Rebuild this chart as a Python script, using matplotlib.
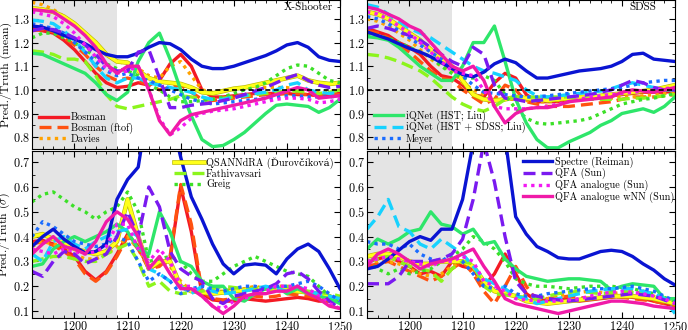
import numpy as np
import matplotlib
matplotlib.use("Agg")
import matplotlib.pyplot as plt
import matplotlib.patheffects as pe
from matplotlib.ticker import MultipleLocator

plt.rcParams['font.family'] = ['cmr10', 'DejaVu Serif']
plt.rcParams['mathtext.fontset'] = 'cm'
plt.rcParams['axes.formatter.use_mathtext'] = True

# wavelength grid (Angstrom)
wave = np.arange(1192, 1251, 2)

names = ['Bosman', 'Bosman (ftof)', 'Davies', 'QSANNdRA (Ďurovčíková)',
         'Fathivavsari', 'Greig', 'iQNet (HST; Liu)', 'iQNet (HST + SDSS; Liu)',
         'Meyer', 'Spectre (Reiman)', 'QFA (Sun)', 'QFA analogue (Sun)',
         'QFA analogue wNN (Sun)']

# ---- X-Shooter, mean ratio
xs_mean_bosman = [1.26,1.25,1.24,1.21,1.17,1.12,1.07,1.03,1.01,1.015,1.03,1.02,1.04,1.11,1.15,1.10,1.00,0.97,0.97,0.975,0.98,0.985,0.985,0.985,0.985,0.98,0.98,0.975,0.98,0.985]
xs_mean_ftof = [1.25,1.255,1.245,1.22,1.19,1.15,1.10,1.06,1.04,1.05,1.04,1.02,1.00,1.01,1.02,0.99,0.96,0.955,0.96,0.965,0.97,0.975,0.98,0.98,0.985,0.985,0.98,0.975,0.98,0.98]
xs_mean_davies = [1.37,1.36,1.34,1.31,1.28,1.24,1.20,1.15,1.12,1.11,1.09,1.06,1.05,1.10,1.12,1.06,1.00,0.99,1.00,1.00,1.005,1.01,1.01,1.01,1.01,1.00,0.995,0.99,0.995,1.00]
xs_mean_qsanndra = [1.345,1.34,1.33,1.31,1.28,1.24,1.20,1.15,1.12,1.115,1.08,1.05,1.035,1.03,1.025,1.01,0.99,0.985,0.995,1.005,1.01,1.02,1.03,1.04,1.05,1.06,1.04,1.03,1.025,1.03]
xs_mean_fathi = [1.165,1.16,1.15,1.13,1.13,1.12,1.06,0.98,0.93,0.92,0.93,0.94,0.95,0.96,0.975,0.97,0.96,0.96,0.965,0.97,0.975,0.98,0.985,0.99,0.995,0.995,0.99,0.985,0.99,1.00]
xs_mean_greig = [1.22,1.24,1.24,1.22,1.20,1.17,1.14,1.11,1.09,1.08,1.06,1.02,1.00,0.97,0.95,0.95,0.955,0.96,0.97,0.985,1.00,1.01,1.03,1.06,1.09,1.105,1.10,1.07,1.04,1.03]
xs_mean_iqhst = [1.155,1.15,1.13,1.11,1.09,1.07,1.03,0.98,0.955,0.99,1.12,1.20,1.24,1.13,1.00,0.89,0.79,0.76,0.765,0.79,0.82,0.86,0.90,0.935,0.94,0.935,0.93,0.905,0.925,0.96]
xs_mean_iqsdss = [1.295,1.29,1.28,1.25,1.21,1.16,1.10,1.05,1.03,1.05,1.05,1.03,1.02,1.01,1.00,0.99,0.97,0.96,0.96,0.97,0.975,0.985,0.99,1.00,1.02,1.03,1.00,0.99,0.985,0.99]
xs_mean_meyer = [1.28,1.27,1.26,1.24,1.20,1.16,1.12,1.08,1.06,1.07,1.05,1.04,1.02,1.00,0.98,0.96,0.95,0.94,0.945,0.95,0.955,0.96,0.965,0.97,0.975,0.975,0.97,0.97,0.97,0.975]
xs_mean_spectre = [1.27,1.265,1.25,1.23,1.215,1.195,1.17,1.15,1.14,1.14,1.155,1.18,1.20,1.195,1.17,1.13,1.10,1.09,1.09,1.10,1.115,1.13,1.145,1.165,1.19,1.20,1.18,1.14,1.125,1.12]
xs_mean_qfa = [1.25,1.26,1.255,1.24,1.22,1.19,1.15,1.10,1.08,1.08,1.16,1.17,1.05,0.925,0.925,0.935,0.94,0.945,0.955,0.965,0.98,0.995,1.01,1.03,1.05,1.065,1.04,1.02,1.01,1.015]
xs_mean_qfaan = [1.33,1.32,1.31,1.28,1.24,1.19,1.14,1.09,1.07,1.08,1.10,1.00,0.88,0.81,0.84,0.88,0.90,0.91,0.915,0.92,0.93,0.94,0.95,0.96,0.965,0.965,0.96,0.945,0.95,0.96]
xs_mean_wnn = [1.34,1.335,1.33,1.30,1.27,1.23,1.18,1.11,1.07,1.10,1.10,1.00,0.87,0.81,0.87,0.895,0.905,0.915,0.925,0.935,0.945,0.955,0.965,0.98,0.995,1.01,1.00,0.965,0.97,0.975]

# ---- SDSS, mean ratio
sd_mean_bosman = [1.26,1.245,1.23,1.20,1.18,1.15,1.10,1.06,1.05,1.02,0.98,0.97,1.03,1.07,1.05,0.98,0.95,0.95,0.95,0.955,0.96,0.965,0.97,0.975,0.98,0.985,0.99,0.99,0.99,0.995]
sd_mean_ftof = [1.25,1.24,1.22,1.19,1.16,1.12,1.08,1.05,1.04,1.00,0.97,0.94,0.96,1.02,1.00,0.95,0.94,0.93,0.93,0.93,0.935,0.94,0.945,0.95,0.96,0.97,0.97,0.97,0.975,0.98]
sd_mean_davies = [1.30,1.29,1.27,1.24,1.21,1.17,1.13,1.10,1.08,1.03,1.00,0.98,0.96,0.96,0.96,0.955,0.95,0.95,0.955,0.96,0.96,0.965,0.965,0.965,0.97,0.97,0.975,0.98,0.985,0.99]
sd_mean_qsanndra = [1.33,1.32,1.30,1.27,1.24,1.21,1.17,1.13,1.10,1.04,0.98,0.96,0.955,0.96,0.97,0.965,0.96,0.955,0.96,0.965,0.97,0.97,0.975,0.98,0.985,0.99,0.995,1.00,1.01,1.02]
sd_mean_fathi = [1.15,1.145,1.135,1.12,1.10,1.08,1.05,1.01,0.97,0.94,0.92,0.91,0.93,0.96,0.97,0.97,0.97,0.97,0.97,0.97,0.965,0.96,0.96,0.96,0.96,0.965,0.965,0.97,0.975,0.98]
sd_mean_greig = [1.23,1.225,1.22,1.20,1.18,1.16,1.14,1.10,1.07,1.05,1.05,1.06,1.04,0.98,0.92,0.88,0.86,0.855,0.86,0.865,0.87,0.88,0.90,0.92,0.94,0.95,0.96,0.965,0.975,0.985]
sd_mean_iqhst = [1.225,1.22,1.21,1.18,1.14,1.10,1.07,1.04,1.04,1.10,1.20,1.20,1.27,1.12,0.96,0.86,0.79,0.755,0.755,0.78,0.80,0.82,0.85,0.87,0.90,0.91,0.92,0.905,0.93,0.97]
sd_mean_iqsdss = [1.36,1.35,1.32,1.29,1.26,1.24,1.22,1.19,1.16,1.13,1.10,1.08,1.07,1.055,1.04,1.00,0.975,0.97,0.975,0.98,0.985,0.99,0.995,1.005,1.02,1.03,1.02,1.01,1.00,1.00]
sd_mean_meyer = [1.31,1.30,1.28,1.25,1.22,1.19,1.16,1.13,1.10,1.06,1.02,0.99,0.985,0.98,0.975,0.97,0.97,0.975,0.98,0.985,0.99,0.995,1.00,1.005,1.01,1.02,1.03,1.035,1.04,1.04]
sd_mean_spectre = [1.245,1.23,1.215,1.195,1.175,1.16,1.14,1.115,1.09,1.065,1.055,1.075,1.11,1.13,1.115,1.08,1.05,1.05,1.06,1.07,1.08,1.085,1.09,1.10,1.12,1.15,1.155,1.13,1.125,1.12]
sd_mean_qfa = [1.26,1.27,1.26,1.245,1.23,1.21,1.18,1.15,1.12,1.10,1.18,1.15,1.02,0.965,0.96,0.95,0.955,0.96,0.965,0.97,0.975,0.98,0.99,1.00,1.02,1.04,1.03,1.01,1.00,1.00]
sd_mean_qfaan = [1.33,1.32,1.30,1.27,1.24,1.20,1.16,1.12,1.08,1.07,1.06,1.00,0.93,0.92,0.92,0.92,0.925,0.93,0.94,0.95,0.96,0.97,0.975,0.98,0.985,0.99,0.995,1.00,1.005,1.01]
sd_mean_wnn = [1.35,1.34,1.32,1.30,1.27,1.25,1.20,1.15,1.10,1.08,1.10,1.04,0.93,0.86,0.90,0.92,0.925,0.925,0.935,0.95,0.955,0.96,0.965,0.97,0.99,1.00,0.995,0.99,1.00,1.01]

# ---- X-Shooter, sigma ratio
xs_std_bosman = [0.38,0.385,0.37,0.35,0.32,0.26,0.225,0.26,0.33,0.41,0.36,0.27,0.29,0.31,0.60,0.42,0.17,0.145,0.14,0.14,0.15,0.145,0.14,0.145,0.15,0.155,0.15,0.14,0.14,0.14]
xs_std_ftof = [0.37,0.38,0.365,0.34,0.31,0.25,0.22,0.255,0.32,0.40,0.35,0.27,0.28,0.32,0.61,0.45,0.18,0.15,0.145,0.15,0.16,0.16,0.155,0.16,0.17,0.165,0.16,0.15,0.14,0.13]
xs_std_davies = [0.36,0.38,0.37,0.36,0.33,0.31,0.31,0.33,0.36,0.40,0.35,0.28,0.30,0.28,0.22,0.18,0.17,0.18,0.18,0.19,0.19,0.20,0.19,0.20,0.20,0.19,0.18,0.17,0.15,0.14]
xs_std_qsanndra = [0.40,0.41,0.39,0.38,0.35,0.34,0.33,0.34,0.38,0.55,0.40,0.27,0.30,0.30,0.20,0.18,0.175,0.17,0.175,0.18,0.185,0.19,0.19,0.19,0.185,0.18,0.175,0.17,0.16,0.14]
xs_std_fathi = [0.30,0.31,0.32,0.32,0.31,0.30,0.30,0.33,0.35,0.37,0.30,0.20,0.22,0.18,0.17,0.175,0.18,0.19,0.20,0.195,0.19,0.19,0.19,0.195,0.20,0.19,0.18,0.175,0.17,0.16]
xs_std_greig = [0.54,0.57,0.58,0.55,0.52,0.50,0.47,0.50,0.52,0.58,0.50,0.30,0.31,0.32,0.30,0.25,0.22,0.22,0.25,0.28,0.30,0.32,0.30,0.28,0.26,0.25,0.24,0.20,0.16,0.14]
xs_std_iqhst = [0.28,0.29,0.35,0.38,0.40,0.38,0.40,0.42,0.45,0.42,0.35,0.33,0.50,0.42,0.30,0.28,0.22,0.20,0.20,0.15,0.14,0.17,0.19,0.20,0.17,0.19,0.17,0.16,0.15,0.13]
xs_std_iqsdss = [0.33,0.30,0.38,0.40,0.37,0.35,0.38,0.40,0.42,0.43,0.40,0.27,0.25,0.22,0.20,0.17,0.20,0.18,0.17,0.175,0.18,0.19,0.20,0.19,0.18,0.20,0.18,0.17,0.16,0.15]
xs_std_meyer = [0.40,0.46,0.44,0.41,0.38,0.37,0.36,0.37,0.40,0.38,0.30,0.22,0.25,0.22,0.17,0.19,0.20,0.19,0.18,0.19,0.20,0.20,0.19,0.20,0.20,0.21,0.22,0.20,0.17,0.14]
xs_std_spectre = [0.36,0.40,0.43,0.39,0.36,0.335,0.34,0.37,0.55,0.63,0.68,0.95,1.00,0.90,0.72,0.56,0.47,0.37,0.29,0.25,0.285,0.29,0.285,0.25,0.31,0.35,0.37,0.34,0.27,0.19]
xs_std_qfa = [0.26,0.24,0.30,0.34,0.33,0.29,0.31,0.33,0.40,0.50,0.40,0.60,0.52,0.34,0.27,0.24,0.22,0.15,0.13,0.16,0.17,0.18,0.19,0.21,0.25,0.26,0.23,0.18,0.14,0.11]
xs_std_qfaan = [0.35,0.34,0.33,0.35,0.34,0.33,0.34,0.36,0.45,0.45,0.35,0.30,0.35,0.30,0.20,0.20,0.16,0.12,0.11,0.14,0.15,0.17,0.18,0.20,0.20,0.20,0.19,0.16,0.13,0.11]
xs_std_wnn = [0.33,0.37,0.40,0.36,0.35,0.33,0.38,0.46,0.50,0.47,0.40,0.27,0.32,0.25,0.19,0.19,0.16,0.12,0.09,0.12,0.16,0.17,0.17,0.18,0.18,0.20,0.17,0.15,0.12,0.11]

# ---- SDSS, sigma ratio
sd_std_bosman = [0.30,0.31,0.32,0.30,0.28,0.25,0.26,0.24,0.30,0.28,0.27,0.20,0.25,0.33,0.25,0.17,0.14,0.145,0.15,0.145,0.14,0.145,0.15,0.155,0.16,0.155,0.15,0.14,0.13,0.12]
sd_std_ftof = [0.28,0.29,0.30,0.28,0.26,0.24,0.22,0.24,0.27,0.30,0.25,0.18,0.13,0.20,0.28,0.20,0.14,0.15,0.155,0.16,0.155,0.15,0.155,0.16,0.155,0.15,0.145,0.14,0.13,0.12]
sd_std_davies = [0.30,0.30,0.30,0.29,0.27,0.25,0.24,0.25,0.28,0.30,0.27,0.20,0.18,0.17,0.165,0.16,0.155,0.15,0.16,0.17,0.175,0.18,0.175,0.17,0.175,0.18,0.17,0.16,0.145,0.13]
sd_std_qsanndra = [0.32,0.33,0.33,0.32,0.30,0.29,0.29,0.30,0.30,0.30,0.28,0.22,0.18,0.17,0.16,0.14,0.135,0.13,0.135,0.14,0.145,0.15,0.155,0.16,0.16,0.16,0.155,0.15,0.14,0.13]
sd_std_fathi = [0.30,0.31,0.32,0.30,0.28,0.27,0.26,0.22,0.27,0.30,0.29,0.20,0.17,0.165,0.16,0.155,0.15,0.16,0.17,0.175,0.18,0.175,0.17,0.175,0.18,0.175,0.17,0.16,0.15,0.13]
sd_std_greig = [0.30,0.27,0.25,0.27,0.25,0.26,0.27,0.30,0.32,0.35,0.40,0.38,0.35,0.30,0.23,0.21,0.20,0.20,0.195,0.19,0.195,0.20,0.20,0.20,0.195,0.19,0.18,0.17,0.155,0.14]
sd_std_iqhst = [0.35,0.39,0.37,0.39,0.42,0.43,0.50,0.45,0.44,0.41,0.43,0.37,0.38,0.31,0.27,0.24,0.23,0.22,0.225,0.23,0.23,0.225,0.22,0.185,0.20,0.21,0.205,0.20,0.15,0.15]
sd_std_iqsdss = [0.43,0.48,0.55,0.44,0.42,0.37,0.35,0.39,0.36,0.33,0.28,0.23,0.21,0.19,0.16,0.15,0.13,0.14,0.15,0.16,0.17,0.18,0.185,0.19,0.19,0.19,0.18,0.17,0.15,0.09]
sd_std_meyer = [0.38,0.37,0.37,0.35,0.37,0.33,0.31,0.30,0.33,0.30,0.25,0.20,0.19,0.20,0.17,0.16,0.16,0.17,0.175,0.18,0.185,0.19,0.19,0.19,0.195,0.20,0.19,0.18,0.16,0.14]
sd_std_spectre = [0.27,0.28,0.31,0.345,0.38,0.40,0.385,0.43,0.43,0.55,0.78,1.00,1.00,0.80,0.48,0.41,0.36,0.34,0.315,0.31,0.31,0.325,0.34,0.345,0.34,0.32,0.29,0.265,0.23,0.205]
sd_std_qfa = [0.21,0.21,0.21,0.24,0.30,0.30,0.30,0.31,0.33,0.39,0.55,0.78,0.62,0.40,0.22,0.17,0.16,0.15,0.145,0.14,0.145,0.15,0.155,0.16,0.165,0.17,0.165,0.16,0.145,0.13]
sd_std_qfaan = [0.30,0.31,0.32,0.31,0.30,0.29,0.28,0.30,0.30,0.32,0.30,0.22,0.20,0.18,0.15,0.145,0.14,0.14,0.14,0.145,0.15,0.16,0.17,0.175,0.18,0.175,0.17,0.16,0.15,0.13]
sd_std_wnn = [0.28,0.33,0.35,0.33,0.30,0.27,0.29,0.30,0.31,0.33,0.35,0.28,0.22,0.15,0.13,0.12,0.11,0.10,0.09,0.10,0.11,0.12,0.13,0.14,0.14,0.135,0.13,0.12,0.115,0.11]

xs_mean = [xs_mean_bosman, xs_mean_ftof, xs_mean_davies, xs_mean_qsanndra, xs_mean_fathi,
           xs_mean_greig, xs_mean_iqhst, xs_mean_iqsdss, xs_mean_meyer, xs_mean_spectre,
           xs_mean_qfa, xs_mean_qfaan, xs_mean_wnn]
sd_mean = [sd_mean_bosman, sd_mean_ftof, sd_mean_davies, sd_mean_qsanndra, sd_mean_fathi,
           sd_mean_greig, sd_mean_iqhst, sd_mean_iqsdss, sd_mean_meyer, sd_mean_spectre,
           sd_mean_qfa, sd_mean_qfaan, sd_mean_wnn]
xs_std = [xs_std_bosman, xs_std_ftof, xs_std_davies, xs_std_qsanndra, xs_std_fathi,
          xs_std_greig, xs_std_iqhst, xs_std_iqsdss, xs_std_meyer, xs_std_spectre,
          xs_std_qfa, xs_std_qfaan, xs_std_wnn]
sd_std = [sd_std_bosman, sd_std_ftof, sd_std_davies, sd_std_qsanndra, sd_std_fathi,
          sd_std_greig, sd_std_iqhst, sd_std_iqsdss, sd_std_meyer, sd_std_spectre,
          sd_std_qfa, sd_std_qfaan, sd_std_wnn]

colors = ['#f41a24', '#ff5210', '#ffa200', '#ffff1a', '#8cf51c', '#3ce028',
          '#2ee66a', '#16d2ff', '#1a6cff', '#0a14d2', '#7a1af0', '#f21af2', '#f01aa8']
dot = (0, (1.0, 1.3))
dash = (0, (3.6, 1.8))
styles = ['-', dash, dot] * 4 + ['-']

LW = 2.4
fig = plt.figure(figsize=(6.88, 3.30), dpi=100)
W = 308 / 688
ax_tl = fig.add_axes([32 / 688, 1 - 149 / 330, W, 149 / 330])
ax_tr = fig.add_axes([367 / 688, 1 - 149 / 330, W, 149 / 330])
ax_bl = fig.add_axes([32 / 688, 12 / 330, W, 167 / 330])
ax_br = fig.add_axes([367 / 688, 12 / 330, W, 167 / 330])

panels = [(ax_tl, xs_mean), (ax_tr, sd_mean), (ax_bl, xs_std), (ax_br, sd_std)]
handles = []
for ax, data in panels:
    ax.axvspan(1192, 1208, color='#e4e4e4', zorder=0, lw=0)
    hs = []
    for i, vals in enumerate(data):
        kw = {}
        if i == 3:
            kw['path_effects'] = [pe.Stroke(linewidth=LW + 0.9, foreground='#b8b800'), pe.Normal()]
        h, = ax.plot(wave, vals, color=colors[i], ls=styles[i], lw=LW,
                     label=names[i], **kw)
        hs.append(h)
    handles.append(hs)
    ax.set_xlim(1192, 1250)
    ax.xaxis.set_major_locator(MultipleLocator(10))
    ax.xaxis.set_minor_locator(MultipleLocator(2))
    ax.yaxis.set_major_locator(MultipleLocator(0.1))
    ax.yaxis.set_minor_locator(MultipleLocator(0.05))
    ax.tick_params(which='both', direction='in', top=True, right=True, labelsize=8.8, pad=1.5)
    ax.tick_params(which='major', length=4)
    ax.tick_params(which='minor', length=2)
    for s in ax.spines.values():
        s.set_linewidth(0.8)

for ax in (ax_tl, ax_tr):
    ax.set_ylim(0.75, 1.38)
    ax.axhline(1.0, color='k', ls=(0, (3, 2)), lw=1.2, zorder=5)
    ax.tick_params(labelbottom=False)
for ax in (ax_bl, ax_br):
    ax.set_ylim(0.072, 0.745)

ax_tl.set_ylabel('Pred./Truth (mean)', fontsize=8.5)
ax_bl.set_ylabel(r'Pred./Truth ($\sigma$)', fontsize=8.5)
ax_tl.yaxis.set_label_coords(-0.064, 0.5)
ax_bl.yaxis.set_label_coords(-0.064, 0.5)

ax_tl.text(0.975, 0.985, 'X-Shooter', transform=ax_tl.transAxes, ha='right', va='top', fontsize=8)
ax_tr.text(0.94, 0.985, 'SDSS', transform=ax_tr.transAxes, ha='right', va='top', fontsize=8)

leg_kw = dict(frameon=False, fontsize=7.3, handlelength=2.9, handletextpad=0.25,
              labelspacing=0.05, borderpad=0.1, borderaxespad=0.1)
ax_tl.legend(handles[0][0:3], names[0:3], loc='lower left',
             bbox_to_anchor=(0.015, 0.02), **leg_kw)
ax_bl.legend(handles[2][3:6], names[3:6], loc='upper left',
             bbox_to_anchor=(0.455, 0.975), **leg_kw)
ax_tr.legend(handles[1][6:9], names[6:9], loc='lower left',
             bbox_to_anchor=(0.015, 0.02), **leg_kw)
ax_br.legend(handles[3][9:13], names[9:13], loc='upper left',
             bbox_to_anchor=(0.5, 0.98), **leg_kw)

fig.savefig('out.png', dpi=100)
